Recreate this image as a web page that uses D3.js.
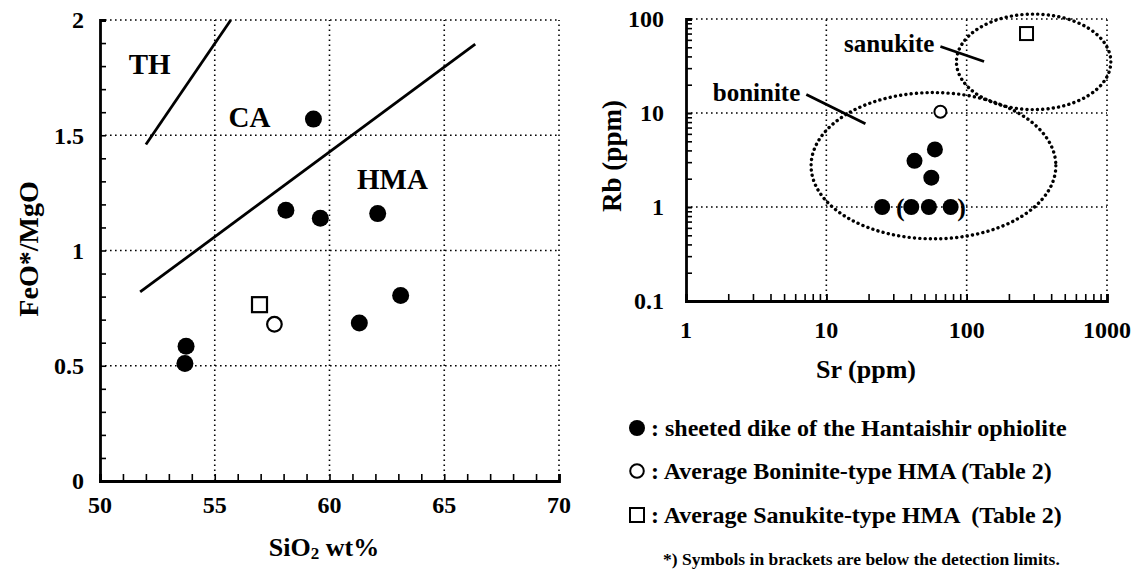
<!DOCTYPE html>
<html><head><meta charset="utf-8">
<script src="https://cdn.jsdelivr.net/npm/d3@7"></script>
<style>
body{margin:0;background:#fff;}
svg text{font-family:"Liberation Serif","Times New Roman",serif;font-weight:bold;fill:#000;}
</style></head>
<body><svg id="c" width="1135" height="579"></svg>
<script>
// ---------- Left panel data (SiO2 vs FeO*/MgO) ----------
const leftXTicks = [50, 55, 60, 65, 70];
const leftYTicks = [0, 0.5, 1, 1.5, 2];
const dikeSiO2 = [53.7, 53.75, 58.1, 59.3, 59.6, 62.1, 61.3, 63.1];
const dikeFeMg = [0.51, 0.585, 1.175, 1.57, 1.14, 1.16, 0.685, 0.805];
const boniniteSiO2 = [57.6];
const boniniteFeMg = [0.68];
const sanukiteSiO2 = [56.95];
const sanukiteFeMg = [0.765];
const thLine = [[52.0, 1.46], [55.7, 2.0]];
const caLine = [[51.75, 0.82], [66.35, 1.895]];
const leftLabels = ["TH", "CA", "HMA"];
const leftLabelPos = [[51.25, 1.766], [55.6, 1.536], [61.2, 1.267]];

// ---------- Right panel data (Sr vs Rb, log-log) ----------
const rightXTicks = [1, 10, 100, 1000];
const rightYTicks = [0.1, 1, 10, 100];
const dikeSr = [25, 42.5, 59.4, 56, 40.3, 53.8, 76.9];
const dikeRb = [1, 3.1, 4.1, 2.05, 1, 1, 1];
const bracketed = [false, false, false, false, true, true, true];
const boniniteSr = [65];
const boniniteRb = [10.3];
const sanukiteSr = [267];
const sanukiteRb = [70];
// fields: centre (Sr, Rb) and half-widths in decades
const fieldNames = ["boninite", "sanukite"];
const fieldCentre = [[58, 2.75], [300, 35]];
const fieldRadius = [[0.872, 0.778], [0.55, 0.508]];
const leaderFrom = [[7.2, 15.7], [65, 51]];
const leaderTo = [[19, 7.7], [133, 35.3]];

const legendLabels = [": sheeted dike of the Hantaishir ophiolite",
  ": Average Boninite-type HMA (Table 2)",
  ": Average Sanukite-type HMA  (Table 2)"];
const footnote = "*) Symbols in brackets are below the detection limits.";

const svg = d3.select("#c");
const gridDash = "1.6,3.4";
const tickFont = 24;

// ================= LEFT PANEL =================
const xL = d3.scaleLinear().domain([50, 70]).range([100, 559]);
const yL = d3.scaleLinear().domain([0, 2]).range([481, 20]);
const L = svg.append("g");

L.selectAll(".gx").data(leftXTicks.slice(1)).join("line")
  .attr("x1", d => xL(d)).attr("x2", d => xL(d)).attr("y1", yL(0)).attr("y2", yL(2))
  .attr("stroke", "#000").attr("stroke-width", 1.6).attr("stroke-dasharray", gridDash);
L.selectAll(".gy").data(leftYTicks.slice(1)).join("line")
  .attr("x1", xL(50)).attr("x2", xL(70)).attr("y1", d => yL(d)).attr("y2", d => yL(d))
  .attr("stroke", "#000").attr("stroke-width", 1.6).attr("stroke-dasharray", gridDash);

const axL = d3.axisLeft(yL).tickValues(d3.range(0, 2.001, 0.1)).tickSize(-6).tickFormat("");
const gyL = L.append("g").attr("transform", `translate(${xL(50)},0)`).call(axL);
const axB = d3.axisBottom(xL).tickValues(d3.range(50, 70.001, 1)).tickSize(-7).tickFormat("");
const gxL = L.append("g").attr("transform", `translate(0,${yL(0)})`).call(axB);
[gyL, gxL].forEach(g => {
  g.select(".domain").attr("stroke", "#000").attr("stroke-width", 2.8);
  g.selectAll(".tick line").attr("stroke", "#000").attr("stroke-width", 1.6);
});
L.selectAll(".ylab").data(leftYTicks).join("text")
  .attr("x", xL(50) - 16).attr("y", d => yL(d)).attr("dy", "0.35em")
  .attr("text-anchor", "end").attr("font-size", tickFont).text(d => d);
L.selectAll(".xlab").data(leftXTicks).join("text")
  .attr("x", d => xL(d)).attr("y", yL(0) + 32)
  .attr("text-anchor", "middle").attr("font-size", tickFont).text(d => d);

const xt = L.append("text").attr("x", 324).attr("y", 556).attr("text-anchor", "middle").attr("font-size", 26);
xt.append("tspan").text("SiO");
xt.append("tspan").attr("font-size", 17).attr("dy", 3).text("2");
xt.append("tspan").attr("dy", -3).text(" wt%");
L.append("text").attr("transform", "translate(38,249) rotate(-90)")
  .attr("text-anchor", "middle").attr("font-size", 28).text("FeO*/MgO");

const lineL = d3.line().x(d => xL(d[0])).y(d => yL(d[1]));
[thLine, caLine].forEach(l => L.append("path").attr("d", lineL(l))
  .attr("fill", "none").attr("stroke", "#000").attr("stroke-width", 2.8));
L.selectAll(".flab").data(leftLabels).join("text")
  .attr("x", (d, i) => xL(leftLabelPos[i][0])).attr("y", (d, i) => yL(leftLabelPos[i][1]))
  .attr("font-size", 29).text(d => d);

L.selectAll(".dk").data(dikeSiO2).join("circle")
  .attr("cx", d => xL(d)).attr("cy", (d, i) => yL(dikeFeMg[i])).attr("r", 8.5).attr("fill", "#000");
L.selectAll(".bo").data(boniniteSiO2).join("circle")
  .attr("cx", d => xL(d)).attr("cy", (d, i) => yL(boniniteFeMg[i])).attr("r", 7.3)
  .attr("fill", "#fff").attr("stroke", "#000").attr("stroke-width", 2.2);
L.selectAll(".sa").data(sanukiteSiO2).join("rect")
  .attr("x", d => xL(d) - 7.5).attr("y", (d, i) => yL(sanukiteFeMg[i]) - 7.5)
  .attr("width", 15).attr("height", 15)
  .attr("fill", "#fff").attr("stroke", "#000").attr("stroke-width", 2.2);

// ================= RIGHT PANEL =================
const xR = d3.scaleLog().domain([1, 1000]).range([686, 1107]);
const yR = d3.scaleLog().domain([0.1, 100]).range([301, 19]);
const R = svg.append("g");

R.selectAll(".gx").data(rightXTicks.slice(1)).join("line")
  .attr("x1", d => xR(d)).attr("x2", d => xR(d)).attr("y1", yR(0.1)).attr("y2", yR(100))
  .attr("stroke", "#000").attr("stroke-width", 1.6).attr("stroke-dasharray", gridDash);
R.selectAll(".gy").data(rightYTicks.slice(1)).join("line")
  .attr("x1", xR(1)).attr("x2", xR(1000)).attr("y1", d => yR(d)).attr("y2", d => yR(d))
  .attr("stroke", "#000").attr("stroke-width", 1.6).attr("stroke-dasharray", gridDash);

const minorX = [];
rightXTicks.slice(0, 3).forEach(p => d3.range(1, 11).forEach(m => minorX.push(p * m)));
const minorY = [];
rightYTicks.slice(0, 3).forEach(p => d3.range(1, 11).forEach(m => minorY.push(p * m)));
const gyR = R.append("g").attr("transform", `translate(${xR(1)},0)`)
  .call(d3.axisLeft(yR).tickValues(minorY).tickSize(-6).tickFormat(""));
const gxR = R.append("g").attr("transform", `translate(0,${yR(0.1)})`)
  .call(d3.axisBottom(xR).tickValues(minorX).tickSize(-7).tickFormat(""));
[gyR, gxR].forEach(g => {
  g.select(".domain").attr("stroke", "#000").attr("stroke-width", 2.8);
  g.selectAll(".tick line").attr("stroke", "#000").attr("stroke-width", 1.6);
});
R.selectAll(".ylab").data(rightYTicks).join("text")
  .attr("x", xR(1) - 22).attr("y", d => yR(d)).attr("dy", "0.35em")
  .attr("text-anchor", "end").attr("font-size", tickFont).text(d => d);
R.selectAll(".xlab").data(rightXTicks).join("text")
  .attr("x", d => xR(d)).attr("y", yR(0.1) + 37)
  .attr("text-anchor", "middle").attr("font-size", tickFont).text(d => d);
R.append("text").attr("x", 866).attr("y", 378).attr("text-anchor", "middle")
  .attr("font-size", 26).text("Sr (ppm)");
R.append("text").attr("transform", "translate(621,156) rotate(-90)")
  .attr("text-anchor", "middle").attr("font-size", 27).text("Rb (ppm)");

fieldNames.forEach((n, i) => {
  const c = fieldCentre[i], r = fieldRadius[i];
  const cx = xR(c[0]), cy = yR(c[1]);
  const rx = xR(c[0] * Math.pow(10, r[0])) - cx;
  const ry = cy - yR(c[1] * Math.pow(10, r[1]));
  R.append("ellipse").attr("cx", cx).attr("cy", cy).attr("rx", rx).attr("ry", ry)
    .attr("fill", "none").attr("stroke", "#000").attr("stroke-width", 3.4)
    .attr("stroke-linecap", "round").attr("stroke-dasharray", "0.1,5.2");
  R.append("line").attr("x1", xR(leaderFrom[i][0])).attr("y1", yR(leaderFrom[i][1]))
    .attr("x2", xR(leaderTo[i][0])).attr("y2", yR(leaderTo[i][1]))
    .attr("stroke", "#000").attr("stroke-width", 2.8);
  R.append("text").attr("x", xR(leaderFrom[i][0]) - 6).attr("y", yR(leaderFrom[i][1]) + 6)
    .attr("text-anchor", "end").attr("font-size", 25).text(n);
});

R.selectAll(".dk").data(dikeSr).join("circle")
  .attr("cx", d => xR(d)).attr("cy", (d, i) => yR(dikeRb[i])).attr("r", 8).attr("fill", "#000");
R.selectAll(".bo").data(boniniteSr).join("circle")
  .attr("cx", d => xR(d)).attr("cy", (d, i) => yR(boniniteRb[i])).attr("r", 6)
  .attr("fill", "#fff").attr("stroke", "#000").attr("stroke-width", 2);
R.selectAll(".sa").data(sanukiteSr).join("rect")
  .attr("x", d => xR(d) - 6.5).attr("y", (d, i) => yR(sanukiteRb[i]) - 6.5)
  .attr("width", 13).attr("height", 13)
  .attr("fill", "#fff").attr("stroke", "#000").attr("stroke-width", 2);
const bSr = dikeSr.filter((d, i) => bracketed[i]);
const bRb = dikeRb.filter((d, i) => bracketed[i]);
R.append("text").attr("x", xR(d3.min(bSr)) - 11).attr("y", yR(bRb[0])).attr("dy", "0.33em")
  .attr("text-anchor", "middle").attr("font-size", 26).text("(");
R.append("text").attr("x", xR(d3.max(bSr)) + 11).attr("y", yR(bRb[0])).attr("dy", "0.33em")
  .attr("text-anchor", "middle").attr("font-size", 26).text(")");

// ================= LEGEND =================
const legY = [428, 471, 515];
const G = svg.append("g");
G.append("circle").attr("cx", 637).attr("cy", legY[0]).attr("r", 8).attr("fill", "#000");
G.append("circle").attr("cx", 637).attr("cy", legY[1]).attr("r", 6.8)
  .attr("fill", "none").attr("stroke", "#000").attr("stroke-width", 2);
G.append("rect").attr("x", 630).attr("y", legY[2] - 7).attr("width", 14).attr("height", 14)
  .attr("fill", "none").attr("stroke", "#000").attr("stroke-width", 2);
G.selectAll(".lt").data(legendLabels).join("text")
  .attr("x", 651).attr("y", (d, i) => legY[i]).attr("dy", "0.35em")
  .attr("font-size", 24).style("white-space", "pre").text(d => d);
G.append("text").attr("x", 663).attr("y", 565).attr("font-size", 17.5).text(footnote);
</script></body></html>
